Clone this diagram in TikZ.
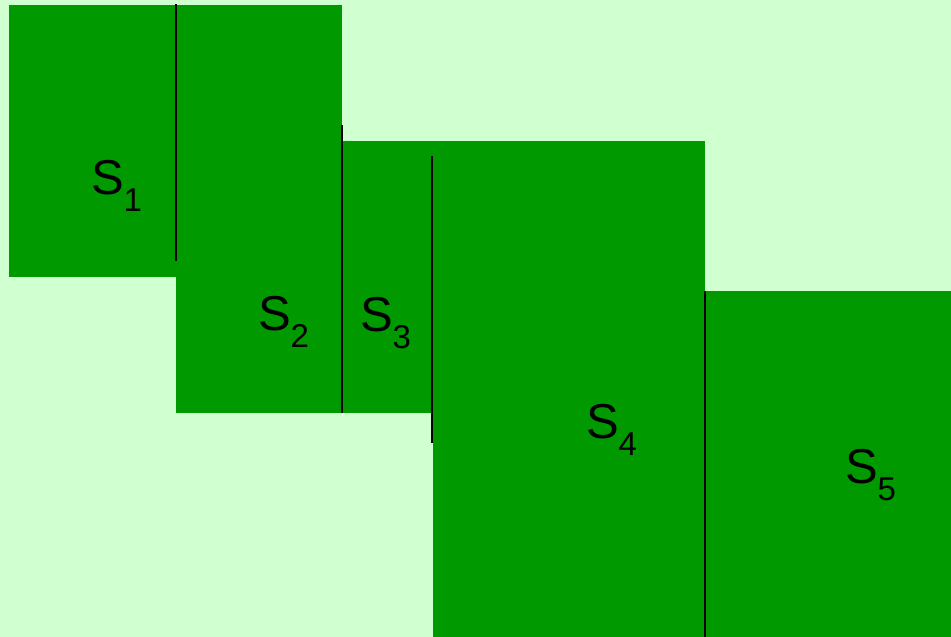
\documentclass[tikz,border=0pt]{standalone}
\usepackage{fontspec}
\setmainfont{Liberation Sans}
\definecolor{bglight}{RGB}{208,255,208}
\definecolor{darkg}{RGB}{0,153,0}
\begin{document}
\begin{tikzpicture}[x=1pt,y=-1pt,
  blk/.style={fill=darkg},
  sep/.style={draw=black,line width=2pt},
  lbl/.style={anchor=base west,inner sep=0pt,outer sep=0pt,font=\fontsize{49}{49}\selectfont}]
\useasboundingbox (0,0) rectangle (951,637);
\fill[bglight] (0,0) rectangle (951,637);
\fill[blk] (9,5) rectangle (176,277);
\fill[blk] (176,5) rectangle (342,413);
\fill[blk] (342,141) rectangle (433,413);
\fill[blk] (433,141) rectangle (705,637);
\fill[blk] (705,291) rectangle (951,637);
\coordinate (a1) at (176,4);   \coordinate (a2) at (176,261);
\coordinate (b1) at (342,125); \coordinate (b2) at (342,413);
\coordinate (c1) at (432,156); \coordinate (c2) at (432,443);
\coordinate (d1) at (705,291); \coordinate (d2) at (705,637);
\draw[sep] (a1) -- (a2);
\draw[sep] (b1) -- (b2);
\draw[sep] (c1) -- (c2);
\draw[sep] (d1) -- (d2);
\newcommand{\lab}[1]{S\raisebox{-17pt}{\fontsize{33}{33}\selectfont #1}}
\node[lbl] (s1) at (91,194) {\lab{1}};
\node[lbl] (s2) at (258,330) {\lab{2}};
\node[lbl] (s3) at (360,331) {\lab{3}};
\node[lbl] (s4) at (586,438) {\lab{4}};
\node[lbl] (s5) at (845,483) {\lab{5}};
\end{tikzpicture}
\end{document}
